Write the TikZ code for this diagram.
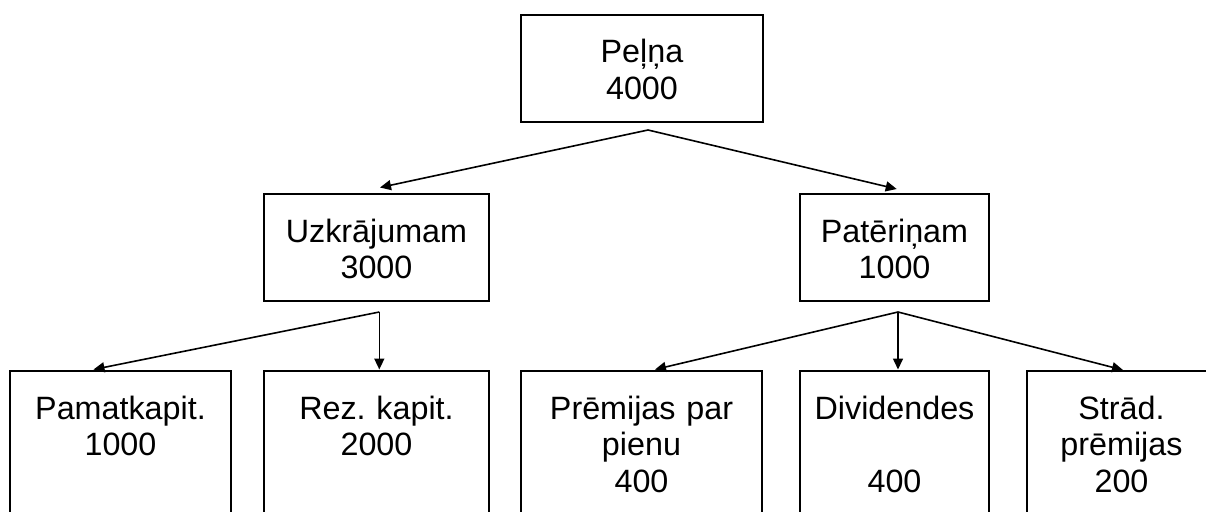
\documentclass[tikz,border=0pt]{standalone}
\usepackage{fontspec}
\setmainfont{Liberation Sans}
\frenchspacing
\usetikzlibrary{positioning, arrows.meta}
\tikzset{%
	>={Triangle[length = 11pt, width = 10pt]},
	every edge/.append style = {line width = 1.6pt},
	box/.style = {draw, rectangle, line width = 2.6pt, anchor = north, inner sep = 0pt, outer sep = 0pt,
		text width = #1, align = center, text height = 48pt, font = \fontsize{32.3}{36.5}\selectfont},
	upper/.style = {box = #1, text depth = 59pt},
	lower/.style = {box = #1, text depth = 150pt}
}
\begin{document}
\begin{tikzpicture}[x = 1pt, y = -1pt]
			\clip (0,0) rectangle (1206,511);
			\node [upper = 242pt] (Pelna) at (642,15) {Peļņa\\4000};
			\node [upper = 225pt] (Uzkr) at (376.5,194) {Uzkrājumam\\3000};
			\node [upper = 189pt] (Pater) at (894.5,194) {Patēriņam\\1000};
			\node [lower = 221pt] (Pamat) at (120.5,371) {Pamatkapit.\\1000};
			\node [lower = 225pt] (Rez) at (376.5,371) {Rez. kapit.\\2000};
			\node [lower = 241pt] (Prem) at (641.5,371) {Prēmijas par\\pienu\\400};
			\node [lower = 189pt] (Divid) at (894.5,371) {Dividendes\\\mbox{}\\400};
			\node [lower = 189pt] (Strad) at (1121.5,371) {Strād.\\prēmijas\\200};
			\coordinate (PelnaFork) at ([xshift = 6pt, yshift = -8pt]Pelna.south);
			\coordinate (UzkrFork) at ([xshift = 2.8pt, yshift = -11pt]Uzkr.south);
			\coordinate (PaterFork) at ([xshift = 3.5pt, yshift = -11pt]Pater.south);
			\path [->] (PelnaFork) edge ([xshift = 3.5pt, yshift = 6.5pt]Uzkr.north);
			\path [->] (PelnaFork) edge ([xshift = 2.2pt, yshift = 5pt]Pater.north);
			\path [->] (UzkrFork) edge ([xshift = -27pt, yshift = 1.5pt]Pamat.north);
			\path [->] (UzkrFork) edge ([xshift = 2.8pt, yshift = 1.5pt]Rez.north);
			\path [->] (PaterFork) edge ([xshift = 13.5pt, yshift = 1.5pt]Prem.north);
			\path [->] (PaterFork) edge ([xshift = 3.5pt, yshift = 1.5pt]Divid.north);
			\path [->] (PaterFork) edge ([xshift = 1.5pt, yshift = 1pt]Strad.north);
			\end{tikzpicture}
\end{document}
